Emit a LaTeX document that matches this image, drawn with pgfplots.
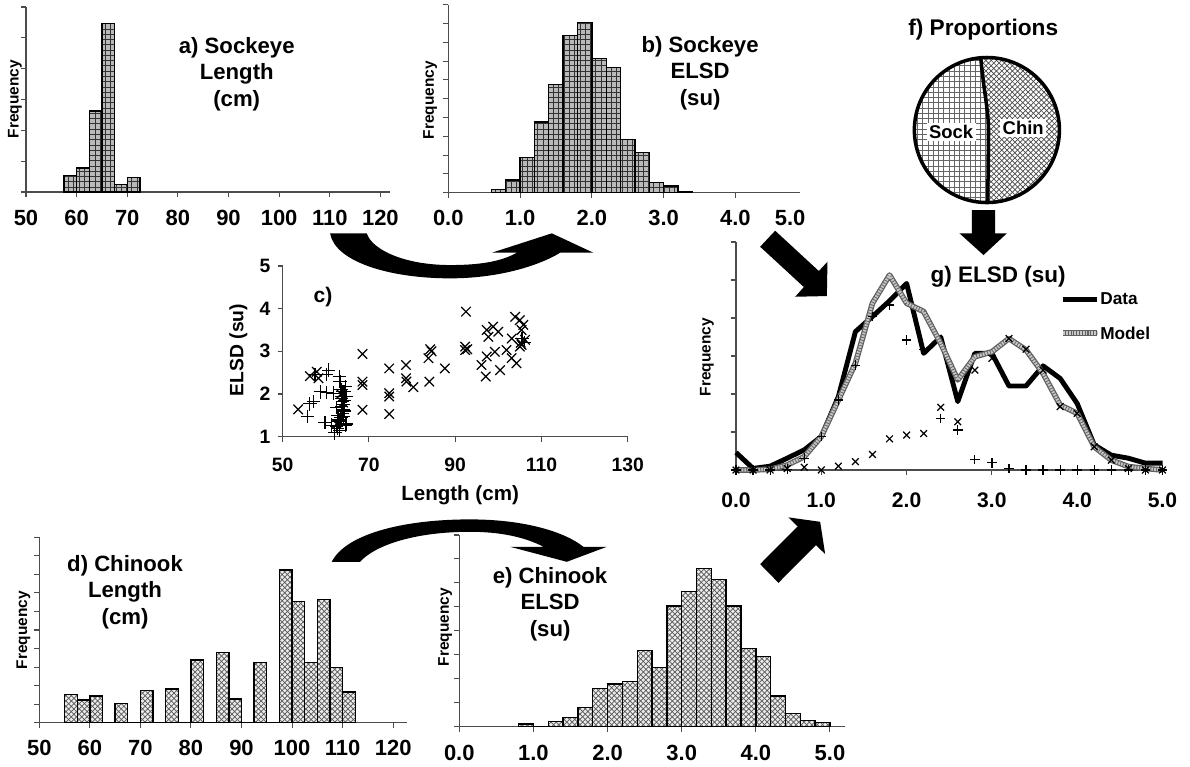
\documentclass[border=0pt]{standalone}
\usepackage{fontspec}
\setmainfont{Liberation Sans}
\usepackage{pgfplots}
\pgfplotsset{compat=1.18}
\usetikzlibrary{patterns}

\pgfplotsset{
  base/.style={scale only axis, anchor=south west,
    axis x line=bottom, axis y line=left,
    axis line style={-, draw=black!70, line width=0.6pt},
    tick align=outside, major tick length=0.1cm,
    tick style={black!70, line width=0.6pt},
    /pgf/number format/assume math mode=true, clip=false},
  hist/.style={base, yticklabels={},
    xticklabel style={anchor=center, font=\fontsize{12.5}{15}\selectfont\bfseries}},
  sockbg/.style={ybar interval, fill=gray!55, draw=none},
  sockfg/.style={ybar interval, pattern=grid, pattern color=black!80, draw=black, line width=0.8pt},
  chinbg/.style={ybar interval, fill=gray!15, draw=none},
  chinfg/.style={ybar interval, pattern=crosshatch, pattern color=black!65, draw=black, line width=0.8pt},
}
\tikzset{
  ttl/.style={font=\fontsize{12.6}{15.2}\selectfont\bfseries, align=center},
  frq/.style={font=\fontsize{8.8}{10}\selectfont\bfseries, rotate=90},
}

\begin{document}
\begin{tikzpicture}
\useasboundingbox (0,0) rectangle (23.8cm,-15.34cm);

% a) sockeye length
\begin{axis}[hist, at={(0.52cm,-3.84cm)}, width=7.28cm, height=3.7cm,
  xmin=50, xmax=121.9, ymin=0, ymax=6,
  xtick={50,60,...,120}, ytick={0,...,6},
  xticklabel style={yshift=-0.42cm}]
\addplot[sockbg] coordinates {(57.5,0.54) (60,0.78) (62.5,2.63) (65,5.46) (67.5,0.24) (70,0.47) (72.5,0)};
\addplot[sockfg] coordinates {(57.5,0.54) (60,0.78) (62.5,2.63) (65,5.46) (67.5,0.24) (70,0.47) (72.5,0)};
\end{axis}

% b) sockeye ELSD
\begin{axis}[hist, at={(8.966cm,-3.854cm)}, width=7.034cm, height=3.76cm,
  xmin=0, xmax=4.9, ymin=0, ymax=10,
  xtick={0,...,4}, xticklabels={0.0,1.0,2.0,3.0,4.0}, ytick={0,...,10},
  xticklabel style={yshift=-0.41cm}]
\addplot[sockbg] coordinates {(0.6,0.18) (0.8,0.67) (1.0,1.88) (1.2,3.75) (1.4,5.74) (1.6,8.35) (1.8,9.06) (2.0,7.14) (2.2,6.66) (2.4,2.84) (2.6,2.13) (2.8,0.53) (3.0,0.36) (3.2,0.05) (3.4,0)};
\addplot[sockfg] coordinates {(0.6,0.18) (0.8,0.67) (1.0,1.88) (1.2,3.75) (1.4,5.74) (1.6,8.35) (1.8,9.06) (2.0,7.14) (2.2,6.66) (2.4,2.84) (2.6,2.13) (2.8,0.53) (3.0,0.36) (3.2,0.05) (3.4,0)};
\end{axis}

% c) scatter
\begin{axis}[base, at={(5.654cm,-8.734cm)}, width=6.9cm, height=3.414cm,
  xmin=50, xmax=130, ymin=1, ymax=5,
  xtick={50,70,...,130}, ytick={1,...,5},
  xticklabel style={anchor=center, yshift=-0.468cm, font=\fontsize{11}{13}\selectfont\bfseries},
  yticklabel style={anchor=center, xshift=-0.254cm, font=\fontsize{11}{13}\selectfont\bfseries}]
\addplot[only marks, mark=x, mark size=3.8pt, black, mark options={line width=0.7pt}] coordinates {
(53.6,1.64)(56.3,2.42)(57.9,2.52)(58.3,2.37)(68.5,2.94)(68.5,2.29)(68.5,2.21)(68.5,1.63)
(74.7,2.60)(74.7,2.02)(74.7,1.94)(74.7,1.53)(78.6,2.68)(78.6,2.37)(78.7,2.29)(80.3,2.16)
(83.8,2.84)(84.2,3.05)(84.0,2.29)(87.6,2.60)(92.5,3.93)(92.3,3.11)(92.3,3.03)(96.1,2.68)
(97.1,2.41)(97.3,2.88)(97.3,3.50)(97.7,3.34)(98.8,3.58)(100.0,3.46)(99.2,2.99)(100.4,2.56)
(101.9,3.03)(103.1,3.30)(103.1,2.84)(103.9,3.81)(105.0,3.73)(105.4,3.50)(105.4,3.15)(106.2,3.27)
(105.8,3.62)(104.2,2.72)(105.0,3.11)(63.5,2.0)(64,1.8)(62.5,1.3)(84.5,3.0)(92.8,3.05)(105.2,3.2)};
\addplot[only marks, mark=+, mark size=3.8pt, black, mark options={line width=0.7pt}] coordinates {
(55.7,1.47)(56.3,1.77)(57.1,1.82)(60.2,2.45)(60.6,2.56)(58.7,2.05)(60.2,2.03)(59.8,1.33)
(61.4,1.27)(62.1,1.09)(62.5,1.69)(61.7,2.02)(63.1,2.41)(63.3,2.29)(63.7,1.90)(63.7,1.70)
(64.1,1.47)(64.2,2.05)(64.8,1.94)(63.3,1.39)(62.7,1.20)(64.5,1.27)(63.9,1.82)(64.5,2.17)
(64.1,1.63)(62.5,1.25)(63,1.35)(63.5,1.45)(63.8,1.55)(64,1.75)(64.3,1.85)(64.5,1.95)
(64,2.05)(63.5,2.1)(64.8,1.3)(63.2,1.15)(64.2,1.6)(63.6,1.95)(62.8,1.5)(57.5,2.45)(105.5,3.3)(106,3.2)};
\end{axis}

% d) chinook length
\begin{axis}[hist, at={(0.786cm,-14.454cm)}, width=7.35cm, height=3.708cm,
  xmin=50, xmax=122.7, ymin=0, ymax=10,
  xtick={50,60,...,120}, ytick={0,...,10},
  xticklabel style={yshift=-0.41cm}]
\addplot[chinbg] coordinates {(55,1.53)(57.5,1.22)(60,1.44)(62.5,0)(65,1.04)(67.5,0)(70,1.73)(72.5,0)(75,1.82)(77.5,0)(80,3.38)(82.5,0)(85,3.78)(87.5,1.28)(90,0)(92.5,3.26)(95,0)(97.5,8.24)(100,6.53)(102.5,3.24)(105,6.65)(107.5,2.97)(110,1.65)(112.5,0)};
\addplot[chinfg] coordinates {(55,1.53)(57.5,1.22)(60,1.44)(62.5,0)(65,1.04)(67.5,0)(70,1.73)(72.5,0)(75,1.82)(77.5,0)(80,3.38)(82.5,0)(85,3.78)(87.5,1.28)(90,0)(92.5,3.26)(95,0)(97.5,8.24)(100,6.53)(102.5,3.24)(105,6.65)(107.5,2.97)(110,1.65)(112.5,0)};
\end{axis}

% e) chinook ELSD
\begin{axis}[hist, at={(9.186cm,-14.534cm)}, width=7.71cm, height=3.834cm,
  xmin=0, xmax=5.2, ymin=0, ymax=8,
  xtick={0,...,5}, xticklabels={0.0,1.0,2.0,3.0,4.0,5.0}, ytick={0,...,8},
  xticklabel style={yshift=-0.42cm}]
\addplot[chinbg] coordinates {(0.8,0.11)(1.0,0)(1.2,0.21)(1.4,0.39)(1.6,0.81)(1.8,1.6)(2.0,1.78)(2.2,1.88)(2.4,3.17)(2.6,2.47)(2.8,5.03)(3.0,5.63)(3.2,6.6)(3.4,6.14)(3.6,5.03)(3.8,3.26)(4.0,2.92)(4.2,1.28)(4.4,0.56)(4.6,0.25)(4.8,0.17)(5.0,0)};
\addplot[chinfg] coordinates {(0.8,0.11)(1.0,0)(1.2,0.21)(1.4,0.39)(1.6,0.81)(1.8,1.6)(2.0,1.78)(2.2,1.88)(2.4,3.17)(2.6,2.47)(2.8,5.03)(3.0,5.63)(3.2,6.6)(3.4,6.14)(3.6,5.03)(3.8,3.26)(4.0,2.92)(4.2,1.28)(4.4,0.56)(4.6,0.25)(4.8,0.17)(5.0,0)};
\end{axis}

% g) mixture
\begin{axis}[base, yticklabels={}, at={(14.72cm,-9.4cm)}, width=8.53cm, height=4.56cm,
  xmin=0, xmax=5, ymin=0, ymax=6,
  xtick={0,...,5}, xticklabels={0.0,1.0,2.0,3.0,4.0,5.0}, ytick={0,...,6},
  xticklabel style={anchor=center, yshift=-0.5cm, font=\fontsize{12}{14}\selectfont\bfseries}]
\addplot[black, line width=2.8pt, line join=round] coordinates {
(0,0.46)(0.2,0.04)(0.4,0.1)(0.6,0.31)(0.8,0.53)(1.0,0.88)(1.2,1.93)(1.4,3.64)(1.6,4.04)(1.8,4.45)(2.0,4.91)(2.2,3.07)(2.4,3.5)(2.6,1.8)(2.8,3.07)(3.0,3.07)(3.2,2.21)(3.4,2.21)(3.6,2.74)(3.8,2.41)(4.0,1.75)(4.2,0.66)(4.4,0.39)(4.6,0.31)(4.8,0.18)(5.0,0.18)};
\addplot[gray!75!black, line width=3.2pt, line join=round] coordinates {
(0,0)(0.2,0)(0.4,0.02)(0.6,0.13)(0.8,0.35)(1.0,0.88)(1.2,1.84)(1.4,2.81)(1.6,4.39)(1.8,5.13)(2.0,4.39)(2.2,4.17)(2.4,3.33)(2.6,2.37)(2.8,2.98)(3.0,3.11)(3.2,3.46)(3.4,3.16)(3.6,2.54)(3.8,1.71)(4.0,1.49)(4.2,0.61)(4.4,0.26)(4.6,0.09)(4.8,0.04)(5.0,0)};
\addplot[gray!45, line width=1.8pt, line join=round, dash pattern=on 1pt off 0.6pt] coordinates {
(0,0)(0.2,0)(0.4,0.02)(0.6,0.13)(0.8,0.35)(1.0,0.88)(1.2,1.84)(1.4,2.81)(1.6,4.39)(1.8,5.13)(2.0,4.39)(2.2,4.17)(2.4,3.33)(2.6,2.37)(2.8,2.98)(3.0,3.11)(3.2,3.46)(3.4,3.16)(3.6,2.54)(3.8,1.71)(4.0,1.49)(4.2,0.61)(4.4,0.26)(4.6,0.09)(4.8,0.04)(5.0,0)};
\addplot[only marks, mark=+, mark size=2.7pt, black, mark options={line width=0.7pt}] coordinates {
(0,0)(0.2,0)(0.4,0)(0.6,0.02)(0.8,0.31)(1.0,0.88)(1.2,1.84)(1.4,2.76)(1.6,4.04)(1.8,4.34)(2.0,3.42)(2.2,3.18)(2.4,1.36)(2.6,1.05)(2.8,0.28)(3.0,0.19)(3.2,0.04)(3.4,0)(3.6,0)(3.8,0)(4.0,0)(4.2,0)(4.4,0)(4.6,0)(4.8,0)(5.0,0)};
\addplot[only marks, mark=x, mark size=2.7pt, black, mark options={line width=0.7pt}] coordinates {
(0,0)(0.2,0)(0.4,0)(0.6,0.04)(0.8,0.07)(1.0,0)(1.2,0.1)(1.4,0.22)(1.6,0.41)(1.8,0.82)(2.0,0.92)(2.2,0.96)(2.4,1.65)(2.6,1.27)(2.8,2.63)(3.0,2.94)(3.2,3.46)(3.4,3.18)(3.6,2.63)(3.8,1.67)(4.0,1.49)(4.2,0.61)(4.4,0.26)(4.6,0.04)(4.8,0)(5.0,0)};
\end{axis}

\begin{scope}[x=0.02cm, y=-0.02cm]
% titles and labels
\node[ttl] at (236.7,74) {a) Sockeye\\Length\\(cm)};
\node[ttl] at (700,73) {b) Sockeye\\ELSD\\(su)};
\node[ttl] at (125,592) {d) Chinook\\Length\\(cm)};
\node[ttl] at (550,604) {e) Chinook\\ELSD\\(su)};
\node[frq] at (15,99) {Frequency};
\node[frq] at (430,100) {Frequency};
\node[frq] at (23.3,630) {Frequency};
\node[frq] at (445,627) {Frequency};
\node[frq] at (706.7,357) {Frequency};
\node[font=\fontsize{12.5}{15}\selectfont\bfseries] at (790,218) {5.0};
\node[font=\fontsize{12}{14}\selectfont\bfseries] at (323,297) {c)};
\node[font=\fontsize{11}{13}\selectfont\bfseries, rotate=90] at (238.3,350) {ELSD (su)};
\node[font=\fontsize{11.7}{14}\selectfont\bfseries] at (460,495) {Length (cm)};
\node[font=\fontsize{12.9}{15}\selectfont\bfseries] at (983,30) {f) Proportions};
\node[font=\fontsize{12.8}{15}\selectfont\bfseries] at (998,277) {g) ELSD (su)};

% legend of g
\draw[black, line width=2.8pt] (1063,299) -- (1097,299);
\node[anchor=west, font=\fontsize{9.8}{12}\selectfont\bfseries, inner sep=1pt] at (1098,299) {Data};
\draw[gray!75!black, line width=3.2pt] (1063,333) -- (1097,333);
\draw[gray!45, line width=1.8pt, dash pattern=on 1pt off 0.6pt] (1063,333) -- (1097,333);
\node[anchor=west, font=\fontsize{9.8}{12}\selectfont\bfseries, inner sep=1pt] at (1098,333) {Model};

% f) pie
\begin{scope}
\clip (986.7,130) circle[radius=72.5];
\fill[white] (900,40) rectangle (1070,220);
\fill[pattern=crosshatch, pattern color=black!70] (900,40) rectangle (1070,220);
\fill[white] (900,40) -- (979,40) -- (980.7,59.3) .. controls (984,95) and (988.5,110) .. (988.3,133.3)
  .. controls (988,160) and (987.7,180) .. (987.7,200.7) -- (987.7,220) -- (900,220) -- cycle;
\fill[pattern=grid, pattern color=black!60] (900,40) -- (979,40) -- (980.7,59.3) .. controls (984,95) and (988.5,110) .. (988.3,133.3)
  .. controls (988,160) and (987.7,180) .. (987.7,200.7) -- (987.7,220) -- (900,220) -- cycle;
\draw[line width=2pt] (979,40) -- (980.7,59.3) .. controls (984,95) and (988.5,110) .. (988.3,133.3)
  .. controls (988,160) and (987.7,180) .. (987.7,205);
\end{scope}
\draw[line width=2pt] (986.7,130) circle[radius=72.5];
\node[fill=white, inner sep=1.5pt, font=\fontsize{10.5}{12}\selectfont\bfseries] at (951,132) {Sock};
\node[fill=white, inner sep=1.5pt, font=\fontsize{10.5}{12}\selectfont\bfseries] at (1023,128) {Chin};

% arrows
\fill (330,233.3) .. controls (335,262) and (390,278.3) .. (450,278.3)
  .. controls (500,278.3) and (540,265) .. (560,252.7) -- (593.3,252.7) -- (551.7,233.3)
  -- (491.7,252.7) -- (516.7,252.7) .. controls (500,262) and (478,265) .. (450,265)
  .. controls (405,265) and (372,250) .. (366.7,233.3) -- cycle;
\fill (331.7,561.7) .. controls (345,535) and (400,519.3) .. (470,519.3)
  .. controls (525,519.3) and (565,532) .. (583.3,546.7) -- (606.7,546.7) -- (566.7,561.7)
  -- (510,546.7) -- (543.3,546.7) .. controls (525,537) and (500,531.7) .. (470,531.7)
  .. controls (415,531.7) and (375,545) .. (360,561.7) -- cycle;
\fill (760,246.7) -- (775,230.7) -- (818.7,271) -- (827.3,261.7) -- (826.7,296) -- (795,296.7) -- (803.7,287) -- cycle;
\fill (760,564) -- (797.5,526.3) -- (788.3,517.3) -- (820,521.7) -- (825,554) -- (815.8,545) -- (778.3,582.7) -- cycle;
\fill (971.7,210) -- (995,210) -- (995,233.3) -- (1006.7,233.3) -- (983.3,255) -- (959.3,233.3) -- (971.7,233.3) -- cycle;
\end{scope}
\end{tikzpicture}
\end{document}
